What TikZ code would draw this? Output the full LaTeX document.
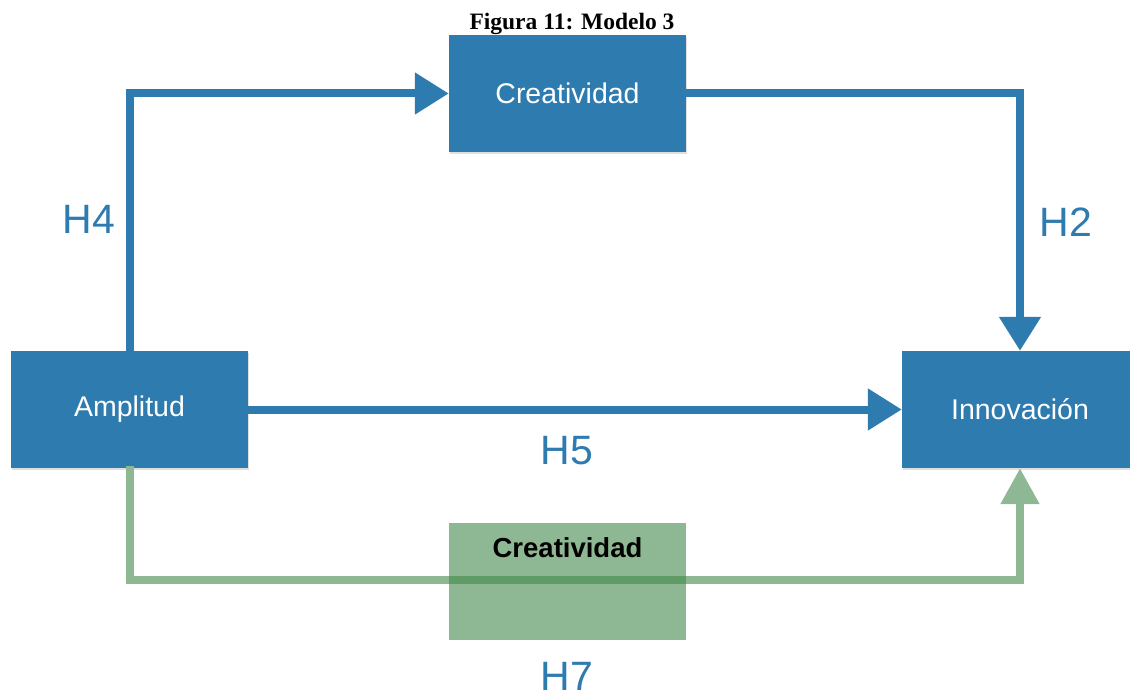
\documentclass[tikz,border=0pt]{standalone}
\usepackage{fontspec}
\setmainfont{Liberation Sans}
\newfontfamily\titlefont{Liberation Serif}
\usetikzlibrary{arrows.meta,shadows}
\definecolor{bluebox}{RGB}{46,123,175}
\definecolor{greenline}{RGB}{141,184,147}
\definecolor{greenbase}{RGB}{65,137,75}
\tikzset{
  box/.style={fill=bluebox, minimum width=237pt, minimum height=117pt, inner sep=0pt,
    text=white, font=\fontsize{28.5}{30}\selectfont,
    drop shadow={shadow xshift=1pt, shadow yshift=-2pt, opacity=0.25}},
  gbox/.style={fill=greenbase, fill opacity=0.6, text opacity=1, minimum width=237pt, minimum height=117pt, inner sep=0pt},
  conn/.style={draw=bluebox, line width=8pt, line join=miter, -{Triangle[length=34pt,width=40pt]}},
  gconn/.style={draw=greenline, line width=8pt, line join=miter, -{Triangle[length=36pt,width=37pt]}},
  hlabel/.style={text=bluebox, font=\fontsize{41}{43}\selectfont, inner sep=0pt},
}
\begin{document}
\begin{tikzpicture}[x=1pt,y=-1pt]
\clip (0,0) rectangle (1130,695);
\fill[white] (0,0) rectangle (1130,695);
\node[font=\titlefont\bfseries\fontsize{23.5}{25}\selectfont, anchor=base, inner sep=0pt] (title) at (572,30) {Figura 11: Modelo 3};
\node[box] (amp) at (129.5,409.5) {\raisebox{-2.5pt}{Amplitud}};
\node[box, minimum width=236pt] (inn) at (1020,409.5) {Innovación};
\node[box] (cre) at (567.5,93.5) {\raisebox{-1pt}{Creatividad}};
\coordinate (g0) at (129.5,466);
\coordinate (g1) at (129.5,580);
\draw[gconn] (g0) -- (g1) -| (inn.south);
\node[gbox] (gcre) at (567.5,581.5) {};
\node[font=\bfseries\fontsize{27.5}{29}\selectfont, anchor=base] (gtext) at (567.5,557) {Creatividad};
\draw[conn] (amp.north) |- (cre.west);
\draw[conn] (cre.east) -| (inn.north);
\draw[conn] (amp.east) -- (inn.west);
\node[hlabel] (h4) at (89,219) {H4};
\node[hlabel] (h2) at (1066,222) {H2};
\node[hlabel] (h5) at (567,451) {H5};
\node[hlabel] (h7) at (567,676) {H7};
\end{tikzpicture}
\end{document}
